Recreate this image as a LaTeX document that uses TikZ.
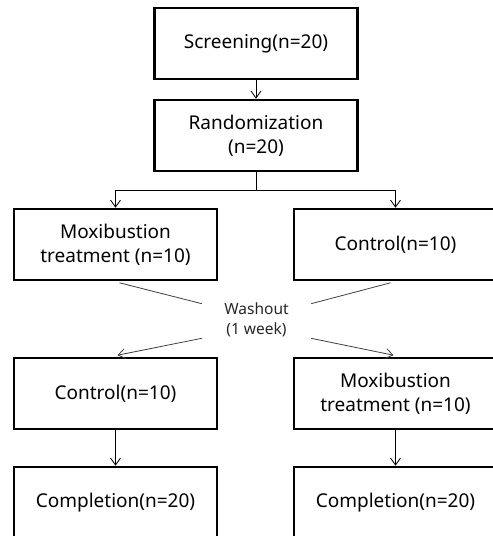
\documentclass[tikz,border=0pt]{standalone}
\usepackage{fontspec}
\setmainfont{Noto Sans}
\usetikzlibrary{arrows.meta}
\tikzset{
  box/.style={draw=black, line width=2.6pt, minimum width=203pt, minimum height=71pt,
    inner sep=0pt, align=center, font=\fontsize{19}{24}\selectfont, text=black},
  conn/.style={line width=0.8pt, draw=black},
  arr/.style={conn, -{Straight Barb[length=7pt,width=10pt,line width=0.8pt]}},
  wline/.style={line width=0.8pt, draw=black!75},
  warr/.style={wline, -{Straight Barb[length=7pt,width=10pt,line width=0.8pt]}},
  washout/.style={minimum width=109pt, minimum height=30pt, inner sep=0pt, align=center,
    font=\fontsize{15.5}{20}\selectfont, text=black!85}
}
\begin{document}
\begin{tikzpicture}[x=1pt,y=-1pt]
\useasboundingbox (0,0) rectangle (493,536);
\clip (0,0) rectangle (493,536);
\node[box] (scr) at (256,43.5) {Screening(n=20)};
\node[box] (ran) at (256,135.5) {Randomization\\(n=20)};
\node[box] (m1) at (115.5,244.5) {Moxibustion\\treatment (n=10)};
\node[box] (c1) at (395.5,244.5) {Control(n=10)};
\node[washout] (w) at (256.5,320) {Washout\\(1 week)};
\node[box] (c2) at (115.5,393.5) {Control(n=10)};
\node[box] (m2) at (395.5,393.5) {Moxibustion\\treatment (n=10)};
\node[box] (e1) at (115.5,502.5) {Completion(n=20)};
\node[box] (e2) at (395.5,502.5) {Completion(n=20)};
\coordinate (split) at (256,190);
\draw[arr] (scr) -- (ran);
\draw[conn] (ran) -- (split);
\draw[arr] (split) -| (m1.north);
\draw[arr] (split) -| (c1.north);
\draw[wline] ([xshift=4pt,yshift=-1.5pt]m1.south) -- ([yshift=-1pt]w.north west);
\draw[wline] ([xshift=-5pt,yshift=-1.5pt]c1.south) -- ([yshift=-1pt]w.north east);
\draw[warr] ([yshift=-1pt]w.south west) -- ([xshift=2pt,yshift=1.5pt]c2.north);
\draw[warr] ([yshift=-1pt]w.south east) -- ([xshift=-2pt,yshift=1.5pt]m2.north);
\draw[arr] (c2) -- (e1);
\draw[arr] (m2) -- (e2);
\end{tikzpicture}
\end{document}
